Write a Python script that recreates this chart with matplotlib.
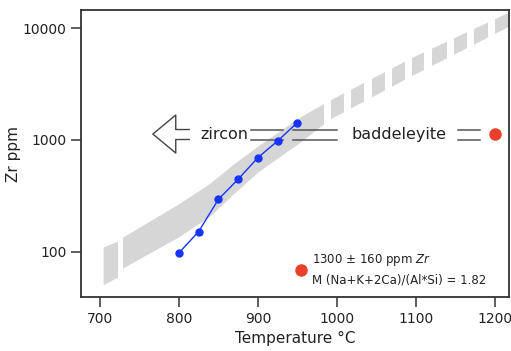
import numpy as np
import matplotlib
matplotlib.use('Agg')
import matplotlib.pyplot as plt
from matplotlib.lines import Line2D

# Zr saturation: measured melt compositions (blue)
temp_c = [800, 825, 850, 875, 900, 925, 950]
zr_ppm = [98, 152, 295, 446, 695, 980, 1430]

# grey saturation band
band_t = [704, 723, 729, 800, 839, 870, 900, 953, 991, 1096, 1218]
band_lo = [51, 60, 72, 137, 208, 335, 518, 950, 1540, 3803, 10400]
band_hi = [111, 125, 136, 270, 410, 617, 884, 1600, 2275, 5510, 13900]
# white breaks in the band (T start, T end)
band_gaps = [(723, 729), (984, 993), (1009, 1018), (1035, 1044), (1061, 1070),
             (1086, 1095), (1111, 1120), (1139, 1148), (1165, 1174), (1191, 1200)]

# baddeleyite point and the bracketing double lines
badd_t, badd_zr = 1200, 1130
pair_lo, pair_hi = 1010, 1240
pair_spans = [(891, 932), (945, 1000), (1153, 1181)]

legend_text = '1300 \u00b1 160 ppm $\\it{Zr}$\nM (Na+K+2Ca)/(Al*Si) = 1.82'

blue = '#1733ff'
red = '#e8402a'
grey = '#d6d6d6'
dark = '#333333'

fig = plt.figure(figsize=(5.11, 3.51), dpi=100)
ax = fig.add_axes([0.1585, 0.1538, 0.8375, 0.8177])

ax.fill_between(band_t, band_lo, band_hi, color=grey, lw=0, zorder=1)
for g0, g1 in band_gaps:
    ax.axvspan(g0, g1, color='white', lw=0, zorder=1.5)

for s0, s1 in pair_spans:
    ax.plot([s0, s1], [pair_hi, pair_hi], color='#555555', lw=1.1, zorder=2)
    ax.plot([s0, s1], [pair_lo, pair_lo], color='#555555', lw=1.1, zorder=2)

ax.plot(temp_c, zr_ppm, '-o', color=blue, lw=1.0, ms=5, zorder=4)
ax.plot([badd_t], [badd_zr], 'o', color=red, ms=8, zorder=4)

# hollow arrow pointing to lower temperature
arr_t = [813, 796, 796, 767, 796, 796, 813]
arr_z = [pair_hi, pair_hi, 1671, badd_zr, 765, pair_lo, pair_lo]
ax.plot(arr_t, arr_z, color='#444444', lw=1.0, zorder=3)

ax.text(827, badd_zr, 'zircon', fontsize=11.5, ha='left', va='center', color='#222222', zorder=3)
ax.text(1019, badd_zr, 'baddeleyite', fontsize=11.5, ha='left', va='center', color='#222222', zorder=3)

handle = Line2D([], [], marker='o', ls='', color=red, ms=8)
leg = ax.legend([handle], [legend_text], loc='center left', bbox_to_anchor=(0.49, 0.097),
                borderaxespad=0, frameon=False, fontsize=8.5, handlelength=1.0,
                handletextpad=0.4)
for t in leg.get_texts():
    t.set_linespacing(1.55)
    t.set_color('#222222')

ax.set_yscale('log')
ax.set_xlim(676, 1218)
ax.set_ylim(39.6, 14480)
ax.set_xticks([700, 800, 900, 1000, 1100, 1200])
ax.set_yticks([100, 1000, 10000])
ax.set_yticklabels(['100', '1000', '10000'])
ax.yaxis.set_minor_locator(matplotlib.ticker.NullLocator())
ax.tick_params(direction='out', length=7, width=1.1, labelsize=10, pad=3.5,
               color=dark, labelcolor='#222222')
for sp in ax.spines.values():
    sp.set_color(dark)
    sp.set_linewidth(1.3)

ax.set_xlabel('Temperature \u00b0C', fontsize=11, color='#222222', labelpad=4)
ax.set_ylabel('Zr ppm', fontsize=11, color='#222222', labelpad=1)

fig.savefig('out.png', dpi=100)
